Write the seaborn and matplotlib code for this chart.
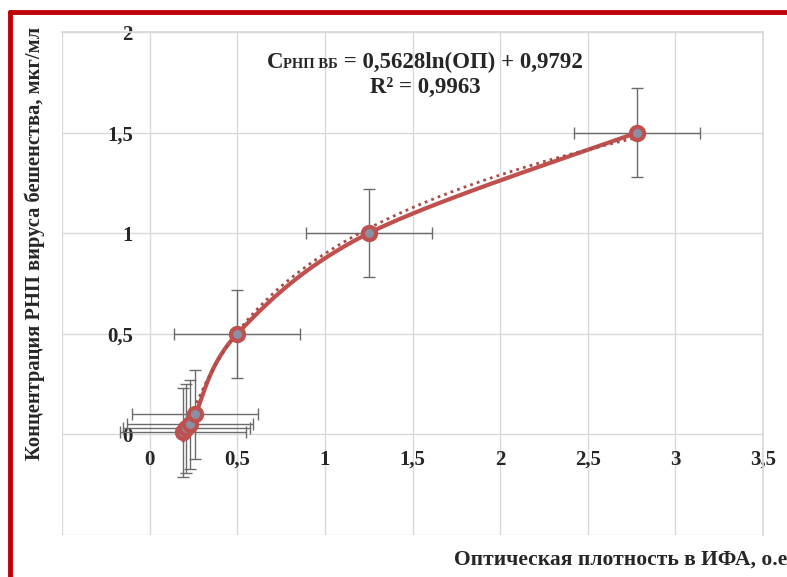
import numpy as np
import pandas as pd
import seaborn as sns
import matplotlib.pyplot as plt
from matplotlib.lines import Line2D

# Данные калибровочной кривой
od = [0.19, 0.21, 0.23, 0.26, 0.5, 1.25, 2.78]
conc = [0.01, 0.03, 0.05, 0.10, 0.5, 1.0, 1.5]
od_err = [0.36, 0.36, 0.36, 0.36, 0.36, 0.36, 0.36]
conc_err = [0.22, 0.22, 0.22, 0.22, 0.22, 0.22, 0.22]
x_ticks = [-0.5, 0, 0.5, 1, 1.5, 2, 2.5, 3, 3.5]
x_labels = ['', '0', '0,5', '1', '1,5', '2', '2,5', '3', '3,5']
y_ticks = [-0.5, 0, 0.5, 1, 1.5, 2]
y_labels = ['', '0', '0,5', '1', '1,5', '2']

sns.set_theme(style='whitegrid')
plt.rcParams['font.family'] = ['Liberation Serif', 'DejaVu Serif']
plt.rcParams['font.weight'] = 'bold'

df = pd.DataFrame({'od': od, 'conc': conc})

# сглаженная линия (Catmull-Rom, как в Excel)
px = np.array(od)
py = np.array(conc)
P = np.column_stack([px, py])
P = np.vstack([P[0], P, P[-1]])
sx, sy = [], []
t = np.linspace(0, 1, 40)
for i in range(1, len(P) - 2):
    p0, p1, p2, p3 = P[i - 1], P[i], P[i + 1], P[i + 2]
    c1 = p1 + (p2 - p0) / 6
    c2 = p2 - (p3 - p1) / 6
    for tt in t:
        b = ((1 - tt) ** 3) * p1 + 3 * ((1 - tt) ** 2) * tt * c1 + 3 * (1 - tt) * tt ** 2 * c2 + tt ** 3 * p2
        sx.append(b[0])
        sy.append(b[1])
smooth = pd.DataFrame({'x': sx, 'y': sy})

# логарифмический тренд
a, b0 = np.polyfit(np.log(px), py, 1)
tx = np.linspace(px.min(), px.max(), 200)
trend = pd.DataFrame({'x': tx, 'y': a * np.log(tx) + b0})

fig = plt.figure(figsize=(7.87, 5.77), dpi=100)
ax = fig.add_axes([62 / 787, 1 - 535 / 577, (763 - 62) / 787, (535 - 32) / 577])

ax.errorbar(od, conc, xerr=od_err, yerr=conc_err, fmt='none', ecolor='#6b6b6b',
            elinewidth=1, capsize=4, capthick=1, zorder=2)
sns.lineplot(data=smooth, x='x', y='y', sort=False, ax=ax, color='#C0504D', lw=3, zorder=3)
sns.lineplot(data=trend, x='x', y='y', ax=ax, color='#A64D4A', lw=2, ls=(0, (1, 1.5)), zorder=4)
ax.plot(od, conc, 'o', ms=9.5, mfc='#8a8fa3', mec='#C0504D', mew=3, zorder=5)

ax.set_xlim(-0.5, 3.5)
ax.set_ylim(-0.5, 2)
ax.set_xticks(x_ticks)
ax.set_xticklabels(x_labels)
ax.set_yticks(y_ticks)
ax.set_yticklabels(y_labels)
ax.grid(True, color='#d9d9d9', lw=1)
ax.set_axisbelow(True)
for s in ['top', 'right']:
    ax.spines[s].set_color('#d9d9d9')
ax.spines['left'].set_position(('data', 0))
ax.spines['bottom'].set_position(('data', 0))
ax.spines['left'].set_visible(False)
ax.spines['bottom'].set_visible(False)
ax.tick_params(axis='both', length=0, labelsize=15)
ax.tick_params(axis='y', pad=12)
ax.tick_params(axis='x', pad=11)
for lab in ax.get_xticklabels() + ax.get_yticklabels():
    lab.set_fontweight('bold')
ax.set_xlabel('')
ax.set_ylabel('')

fig.text(35 / 787, 1 - 243 / 577, 'Концентрация РНП вируса бешенства, мкг/мл', rotation=90,
         ha='center', va='center', fontsize=14.8, fontweight='bold')
fig.text(787 / 787, 1 - 560 / 577, 'Оптическая плотность в ИФА, о.е', ha='right', va='center',
         fontsize=15.5, fontweight='bold')

# уравнение тренда
fig.canvas.draw()
r = fig.canvas.get_renderer()
y1 = 1 - 68 / 577
parts = [('C', 16.5), ('РНП ВБ', 10.5), (' = 0,5628ln(ОП) + 0,9792', 16.5)]
texts = []
for s, fs in parts:
    texts.append(fig.text(0, y1, s, fontsize=fs, fontweight='bold', ha='left', va='baseline'))
widths = [tx_.get_window_extent(r).width for tx_ in texts]
x0 = 425 - sum(widths) / 2
for tx_, w in zip(texts, widths):
    tx_.set_x(x0 / 787)
    x0 += w
fig.text(425 / 787, 1 - 87 / 577, 'R² = 0,9963', fontsize=16.5, fontweight='bold', ha='center', va='center')

# красная рамка
fig.add_artist(Line2D([10 / 787, 1], [1 - 12 / 577, 1 - 12 / 577], color='#C00000', lw=3.5))
fig.add_artist(Line2D([10 / 787, 10 / 787], [0, 1 - 12 / 577], color='#C00000', lw=3.5))

fig.savefig('out.png', dpi=100)
